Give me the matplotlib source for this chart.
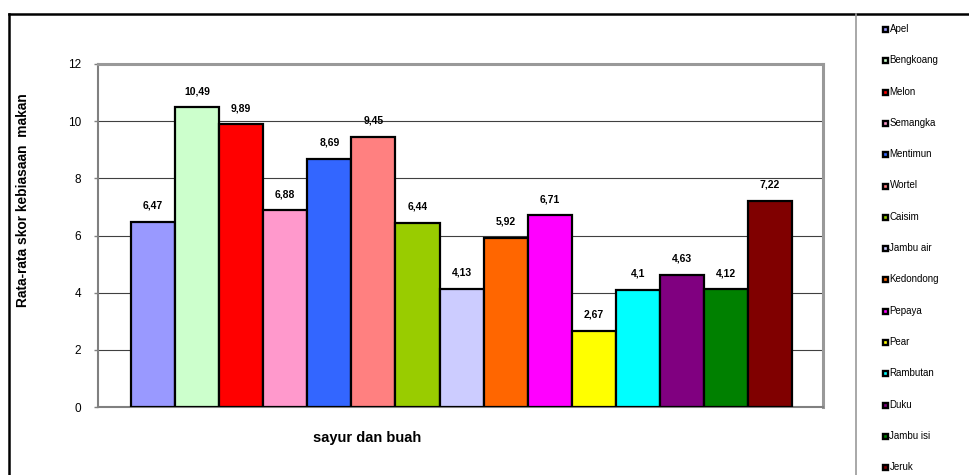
import numpy as np
import matplotlib
matplotlib.use("Agg")
import matplotlib.pyplot as plt

plt.rcParams['font.family'] = ['Liberation Sans', 'DejaVu Sans']

# data
items = ["Apel", "Bengkoang", "Melon", "Semangka", "Mentimun", "Wortel", "Caisim",
         "Jambu air", "Kedondong", "Pepaya", "Pear", "Rambutan", "Duku", "Jambu isi", "Jeruk"]
scores = [6.47, 10.49, 9.89, 6.88, 8.69, 9.45, 6.44, 4.13, 5.92, 6.71, 2.67, 4.1, 4.63, 4.12, 7.22]
colors = ["#9999FF", "#CCFFCC", "#FF0000", "#FF99CC", "#3366FF", "#FF8080", "#99CC00",
          "#CCCCFF", "#FF6600", "#FF00FF", "#FFFF00", "#00FFFF", "#800080", "#008000", "#800000"]
yticks = [0, 2, 4, 6, 8, 10, 12]

W, H = 970, 475
fig = plt.figure(figsize=(W / 100, H / 100), dpi=100)

# main plot area
ax = fig.add_axes([98 / W, 1 - 407 / H, (823 - 98) / W, (407 - 64) / H])
x = np.arange(len(scores))
ax.bar(x, scores, width=1.0, align='edge', color=colors, edgecolor='black',
       linewidth=1.6, zorder=3)
for xi, v in zip(x, scores):
    ax.annotate(("%g" % v).replace('.', ','), (xi + 0.5, v), xytext=(0, 8),
                textcoords='offset points', ha='center', va='bottom',
                fontsize=7.5, fontweight='bold')

ax.set_xlim(-0.75, len(scores) + 0.7)
ax.set_ylim(0, 12)
ax.set_yticks(yticks)
ax.set_xticks([])
ax.yaxis.grid(True, color='#404040', linewidth=0.8, zorder=0)
ax.tick_params(axis='y', length=3, width=1, color='#808080', labelsize=8.5, pad=9)
for s in ['left', 'bottom']:
    ax.spines[s].set_color('#808080')
    ax.spines[s].set_linewidth(1.5)
for s in ['top', 'right']:
    ax.spines[s].set_color('#999999')
    ax.spines[s].set_linewidth(2.2)
ax.set_axisbelow(True)

fig.text(23 / W, 1 - 200 / H, "Rata-rata skor kebiasaan  makan", rotation=90,
         ha='center', va='center', fontsize=9.9, fontweight='bold')
fig.text(367 / W, 1 - 438 / H, "sayur dan buah", ha='center', va='center',
         fontsize=10.5, fontweight='bold')

# overlay in pixel coords: outer frame and legend
ov = fig.add_axes([0, 0, 1, 1], facecolor='none')
ov.set_xlim(0, W)
ov.set_ylim(H, 0)
ov.axis('off')
ov.plot([9, W], [14, 14], color='black', linewidth=1.8)
ov.plot([9, 9], [14, H], color='black', linewidth=1.8)
ov.plot([856, 856], [14, H], color='#999999', linewidth=1.2)

for i, (name, c) in enumerate(zip(items, colors)):
    yy = 29 + i * 31.3
    ov.plot(885, yy, marker='s', markersize=3.6, markerfacecolor=c,
            markeredgecolor='black', markeredgewidth=1.7)
    ov.text(889.5, yy, name, ha='left', va='center', fontsize=7)

fig.savefig("out.png", dpi=100)
